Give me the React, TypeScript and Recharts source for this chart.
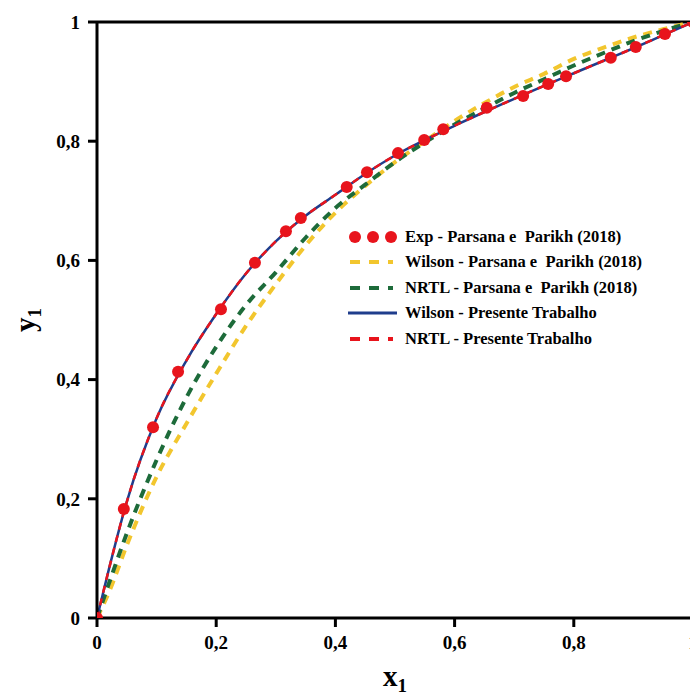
import React from "react";
import {
  ComposedChart,
  Line,
  XAxis,
  YAxis,
  ReferenceLine,
  Legend,
  Label,
} from "recharts";

// liquid mole fraction x1 vs vapour mole fraction y1
const expX = [0, 0.045, 0.094, 0.136, 0.208, 0.265, 0.317, 0.342, 0.419, 0.453, 0.505, 0.549, 0.581, 0.654, 0.715, 0.757, 0.787, 0.862, 0.904, 0.953, 1];
const expY = [0, 0.183, 0.32, 0.413, 0.518, 0.596, 0.649, 0.671, 0.723, 0.748, 0.78, 0.802, 0.82, 0.856, 0.876, 0.896, 0.909, 0.94, 0.958, 0.98, 1];

const modelX = [0, 0.02, 0.05, 0.1, 0.15, 0.2, 0.25, 0.3, 0.35, 0.4, 0.45, 0.5, 0.55, 0.6, 0.65, 0.7, 0.75, 0.8, 0.85, 0.9, 0.95, 1];
const wilsonParsana = [0, 0.043, 0.122, 0.237, 0.326, 0.41, 0.49, 0.56, 0.625, 0.68, 0.725, 0.765, 0.8, 0.834, 0.864, 0.891, 0.913, 0.938, 0.957, 0.974, 0.988, 1];
const nrtlParsana = [0, 0.058, 0.142, 0.265, 0.37, 0.455, 0.525, 0.58, 0.638, 0.688, 0.727, 0.765, 0.798, 0.828, 0.855, 0.881, 0.904, 0.927, 0.948, 0.968, 0.985, 1];
const wilsonPresente = [0, 0.082, 0.195, 0.335, 0.432, 0.51, 0.578, 0.632, 0.675, 0.71, 0.745, 0.776, 0.802, 0.826, 0.849, 0.871, 0.893, 0.914, 0.935, 0.956, 0.978, 1];
const nrtlPresente = [0, 0.082, 0.195, 0.335, 0.432, 0.51, 0.578, 0.632, 0.675, 0.71, 0.745, 0.776, 0.802, 0.826, 0.849, 0.871, 0.893, 0.914, 0.935, 0.956, 0.978, 1];

const ticks = [0, 0.2, 0.4, 0.6, 0.8, 1];

const toPoints = (xs: number[], ys: number[]) => xs.map((x, i) => ({ x, y: ys[i] }));

const expData = toPoints(expX, expY);
const wilsonParsanaData = toPoints(modelX, wilsonParsana);
const nrtlParsanaData = toPoints(modelX, nrtlParsana);
const wilsonPresenteData = toPoints(modelX, wilsonPresente);
const nrtlPresenteData = toPoints(modelX, nrtlPresente);

const FONT = "'Liberation Serif', 'Times New Roman', serif";
const RED = "#e8141c";
const YELLOW = "#f2c62e";
const GREEN = "#1d6b3a";
const BLUE = "#1f3d8c";

const fmt = (v: number) => String(v).replace(".", ",");

const tickStyle = { fill: "#000", fontSize: 19, fontWeight: "bold", fontFamily: FONT };

// legend entries drawn by hand, to get the three-dot / dash markers
const legendRows = [
  { label: "Exp - Parsana e  Parikh (2018)", kind: "dots", color: RED },
  { label: "Wilson - Parsana e  Parikh (2018)", kind: "dash", color: YELLOW },
  { label: "NRTL - Parsana e  Parikh (2018)", kind: "dash", color: GREEN },
  { label: "Wilson - Presente Trabalho", kind: "solid", color: BLUE },
  { label: "NRTL - Presente Trabalho", kind: "dash", color: RED },
];

const LegendBox = () => (
  <div style={{ fontFamily: FONT, fontWeight: "bold", fontSize: 16.5, color: "#000" }}>
    {legendRows.map((r) => (
      <div key={r.label} style={{ display: "flex", alignItems: "center", height: 25.5 }}>
        <svg width={56} height={14} style={{ flex: "none" }}>
          {r.kind === "dots" && [7, 25, 43].map((cx) => <circle key={cx} cx={cx} cy={7} r={6} fill={r.color} />)}
          {r.kind === "dash" && (
            <>
              <line x1={2} y1={7} x2={12} y2={7} stroke={r.color} strokeWidth={4} />
              <line x1={21} y1={7} x2={31} y2={7} stroke={r.color} strokeWidth={4} />
              <line x1={40} y1={7} x2={45} y2={7} stroke={r.color} strokeWidth={4} />
            </>
          )}
          {r.kind === "solid" && <line x1={0} y1={7} x2={49} y2={7} stroke={r.color} strokeWidth={3} />}
        </svg>
        <span style={{ whiteSpace: "pre", marginLeft: 1 }}>{r.label}</span>
      </div>
    ))}
  </div>
);

// experimental points: dots only, drawn under the model curves
const ExpDot = (p: any) => <circle key={`e-${p.index}`} cx={p.cx} cy={p.cy} r={6} fill={RED} />;

export default function App() {
  return (
    <ComposedChart width={690} height={689} margin={{ top: 14, right: 5, bottom: 0, left: 0 }}>
      <XAxis
        type="number"
        dataKey="x"
        domain={[0, 1]}
        ticks={ticks}
        tickFormatter={fmt}
        tickSize={9}
        tickMargin={9}
        height={79}
        axisLine={{ stroke: "#000", strokeWidth: 3 }}
        tickLine={{ stroke: "#000", strokeWidth: 3 }}
        tick={tickStyle}
        allowDataOverflow
      >
        <Label
          content={({ viewBox }: any) => (
            <text x={viewBox.x + viewBox.width / 2} y={678} textAnchor="middle" fontFamily={FONT} fontWeight="bold" fontSize={29} fill="#000">
              x<tspan fontSize={19} dy={6}>1</tspan>
            </text>
          )}
        />
      </XAxis>
      <YAxis
        type="number"
        dataKey="y"
        domain={[0, 1]}
        ticks={ticks}
        tickFormatter={fmt}
        tickSize={9}
        tickMargin={8}
        width={89}
        axisLine={{ stroke: "#000", strokeWidth: 3 }}
        tickLine={{ stroke: "#000", strokeWidth: 3 }}
        tick={tickStyle}
        allowDataOverflow
      >
        <Label
          content={({ viewBox }: any) => (
            <text
              x={27}
              y={viewBox.y + viewBox.height / 2}
              transform={`rotate(-90 27 ${viewBox.y + viewBox.height / 2})`}
              textAnchor="middle"
              fontFamily={FONT}
              fontWeight="bold"
              fontSize={29}
              fill="#000"
            >
              y<tspan fontSize={19} dy={6}>1</tspan>
            </text>
          )}
        />
      </YAxis>
      <ReferenceLine y={1} stroke="#000" strokeWidth={3} />
      <ReferenceLine x={1} stroke="#000" strokeWidth={3} />
      <Legend
        layout="horizontal"
        verticalAlign="middle"
        align="center"
        content={<LegendBox />}
        wrapperStyle={{ top: 216, left: 340, width: 330 }}
      />
      <Line data={expData} dataKey="y" name="Exp" stroke="none" dot={ExpDot} activeDot={false} isAnimationActive={false} />
      <Line data={wilsonParsanaData} dataKey="y" type="monotone" stroke={YELLOW} strokeWidth={4} strokeDasharray="9 7" dot={false} isAnimationActive={false} />
      <Line data={nrtlParsanaData} dataKey="y" type="monotone" stroke={GREEN} strokeWidth={4} strokeDasharray="9 7" dot={false} isAnimationActive={false} />
      <Line data={wilsonPresenteData} dataKey="y" type="monotone" stroke={BLUE} strokeWidth={2.5} dot={false} isAnimationActive={false} />
      <Line data={nrtlPresenteData} dataKey="y" type="monotone" stroke={RED} strokeWidth={2.5} strokeDasharray="7 6" dot={false} isAnimationActive={false} />
    </ComposedChart>
  );
}
